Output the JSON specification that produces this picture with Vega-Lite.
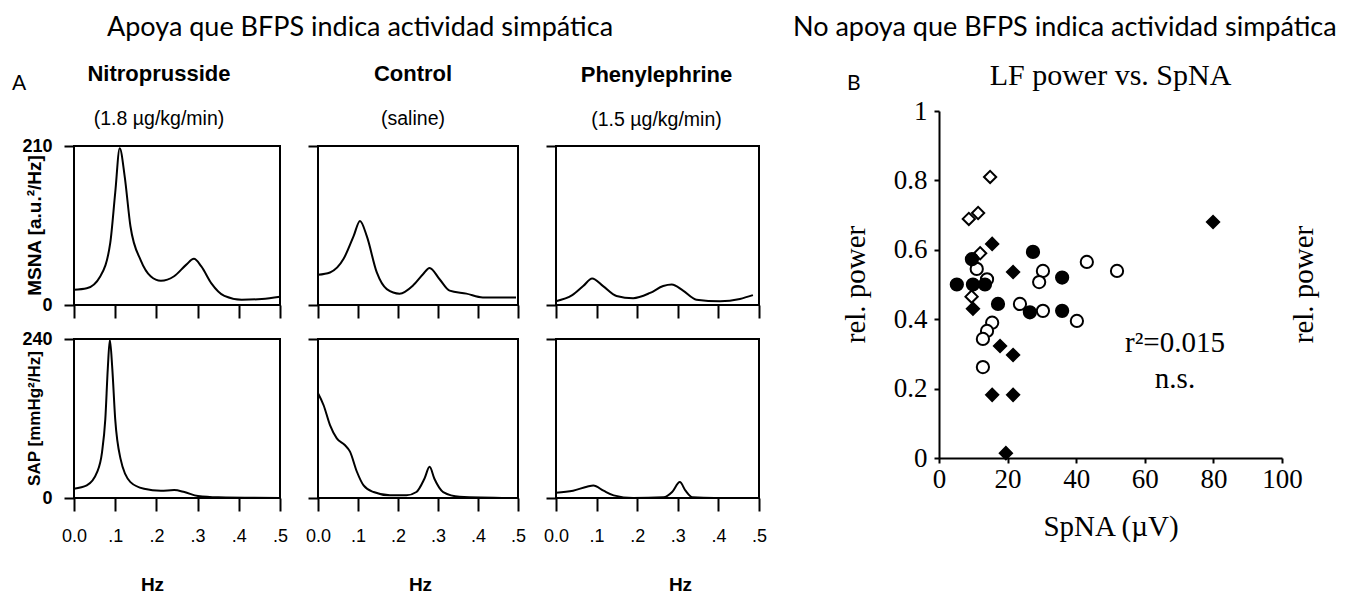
{
  "$schema": "https://vega.github.io/schema/vega-lite/v6.json",
  "padding": {"left": 12, "top": 13, "right": 5, "bottom": 5},
  "background": "white",
  "config": {
    "view": {"stroke": null},
    "title": {"frame": "group", "anchor": "middle", "font": "Liberation Sans", "fontSize": 22, "fontWeight": "bold", "color": "black", "subtitleFont": "Liberation Sans", "subtitleFontSize": 19.5, "subtitleColor": "black", "subtitlePadding": 24, "offset": 16},
    "axis": {"grid": false, "domain": false, "tickColor": "black", "tickWidth": 2, "labelColor": "black", "titleColor": "black", "labelFont": "Liberation Sans", "titleFont": "Liberation Sans"},
    "axisX": {"tickSize": 13, "labelFontSize": 18, "labelPadding": 16, "labelFlush": false, "labelOverlap": false},
    "axisY": {"tickSize": 10, "labelFontSize": 18, "labelFontWeight": "bold", "labelPadding": 12, "labelOverlap": false}
  },
  "datasets": {
    "msna_nitro": [
      {"hz": 0, "power": 20}, {"hz": 0.031, "power": 22}, {"hz": 0.064, "power": 38}, {"hz": 0.088, "power": 82},
      {"hz": 0.1, "power": 148}, {"hz": 0.111, "power": 207}, {"hz": 0.123, "power": 170}, {"hz": 0.137, "power": 104},
      {"hz": 0.162, "power": 59}, {"hz": 0.186, "power": 38}, {"hz": 0.211, "power": 32}, {"hz": 0.243, "power": 38},
      {"hz": 0.272, "power": 53}, {"hz": 0.291, "power": 61}, {"hz": 0.309, "power": 51}, {"hz": 0.333, "power": 29},
      {"hz": 0.365, "power": 12}, {"hz": 0.407, "power": 7}, {"hz": 0.456, "power": 8}, {"hz": 0.5, "power": 11}
    ],
    "msna_control": [
      {"hz": 0, "power": 40}, {"hz": 0.03, "power": 43}, {"hz": 0.064, "power": 61}, {"hz": 0.089, "power": 91},
      {"hz": 0.105, "power": 111}, {"hz": 0.122, "power": 91}, {"hz": 0.147, "power": 43}, {"hz": 0.172, "power": 21},
      {"hz": 0.204, "power": 15}, {"hz": 0.238, "power": 26}, {"hz": 0.263, "power": 41}, {"hz": 0.279, "power": 49},
      {"hz": 0.304, "power": 34}, {"hz": 0.329, "power": 19}, {"hz": 0.371, "power": 15}, {"hz": 0.412, "power": 10},
      {"hz": 0.495, "power": 10}
    ],
    "msna_phenyl": [
      {"hz": 0, "power": 5}, {"hz": 0.04, "power": 13}, {"hz": 0.067, "power": 25}, {"hz": 0.089, "power": 35},
      {"hz": 0.116, "power": 25}, {"hz": 0.149, "power": 12}, {"hz": 0.19, "power": 9}, {"hz": 0.232, "power": 16},
      {"hz": 0.264, "power": 25}, {"hz": 0.285, "power": 27}, {"hz": 0.313, "power": 19}, {"hz": 0.346, "power": 7},
      {"hz": 0.404, "power": 5}, {"hz": 0.453, "power": 8}, {"hz": 0.485, "power": 13}
    ],
    "sap_nitro": [
      {"hz": 0, "power": 14}, {"hz": 0.031, "power": 19}, {"hz": 0.056, "power": 39}, {"hz": 0.068, "power": 69},
      {"hz": 0.076, "power": 119}, {"hz": 0.082, "power": 195}, {"hz": 0.087, "power": 239}, {"hz": 0.093, "power": 195},
      {"hz": 0.1, "power": 119}, {"hz": 0.113, "power": 59}, {"hz": 0.137, "power": 24}, {"hz": 0.17, "power": 14},
      {"hz": 0.211, "power": 11}, {"hz": 0.243, "power": 12}, {"hz": 0.268, "power": 9}, {"hz": 0.301, "power": 3},
      {"hz": 0.35, "power": 1}, {"hz": 0.5, "power": 0}
    ],
    "sap_control": [
      {"hz": 0, "power": 158}, {"hz": 0.014, "power": 140}, {"hz": 0.03, "power": 110}, {"hz": 0.047, "power": 90},
      {"hz": 0.067, "power": 80}, {"hz": 0.08, "power": 70}, {"hz": 0.097, "power": 40}, {"hz": 0.114, "power": 19},
      {"hz": 0.139, "power": 9}, {"hz": 0.18, "power": 4}, {"hz": 0.221, "power": 4}, {"hz": 0.246, "power": 9},
      {"hz": 0.266, "power": 29}, {"hz": 0.279, "power": 47}, {"hz": 0.291, "power": 29}, {"hz": 0.313, "power": 9},
      {"hz": 0.354, "power": 2}, {"hz": 0.495, "power": 0}
    ],
    "sap_phenyl": [
      {"hz": 0, "power": 8}, {"hz": 0.042, "power": 11}, {"hz": 0.076, "power": 17}, {"hz": 0.092, "power": 19},
      {"hz": 0.117, "power": 11}, {"hz": 0.142, "power": 4}, {"hz": 0.19, "power": 0}, {"hz": 0.265, "power": 1},
      {"hz": 0.286, "power": 9}, {"hz": 0.305, "power": 24}, {"hz": 0.319, "power": 11}, {"hz": 0.336, "power": 1},
      {"hz": 0.39, "power": 0}, {"hz": 0.49, "power": 0}
    ],
    "puntos": [
      {"spna": 14.9, "rel": 0.81, "serie": "S1"},
      {"spna": 8.7, "rel": 0.689, "serie": "S1"},
      {"spna": 11.4, "rel": 0.706, "serie": "S1"},
      {"spna": 12, "rel": 0.59, "serie": "S1"},
      {"spna": 9.5, "rel": 0.465, "serie": "S1"},
      {"spna": 15.5, "rel": 0.617, "serie": "S2"},
      {"spna": 21.6, "rel": 0.536, "serie": "S2"},
      {"spna": 9.9, "rel": 0.43, "serie": "S2"},
      {"spna": 17.8, "rel": 0.323, "serie": "S2"},
      {"spna": 21.6, "rel": 0.297, "serie": "S2"},
      {"spna": 15.5, "rel": 0.182, "serie": "S2"},
      {"spna": 21.6, "rel": 0.182, "serie": "S2"},
      {"spna": 19.5, "rel": 0.014, "serie": "S2"},
      {"spna": 79.9, "rel": 0.68, "serie": "S2"},
      {"spna": 30.3, "rel": 0.539, "serie": "S3"},
      {"spna": 29.2, "rel": 0.507, "serie": "S3"},
      {"spna": 43.1, "rel": 0.565, "serie": "S3"},
      {"spna": 51.9, "rel": 0.539, "serie": "S3"},
      {"spna": 23.6, "rel": 0.444, "serie": "S3"},
      {"spna": 30.3, "rel": 0.424, "serie": "S3"},
      {"spna": 40.2, "rel": 0.395, "serie": "S3"},
      {"spna": 15.5, "rel": 0.39, "serie": "S3"},
      {"spna": 14, "rel": 0.366, "serie": "S3"},
      {"spna": 12.8, "rel": 0.343, "serie": "S3"},
      {"spna": 12.8, "rel": 0.262, "serie": "S3"},
      {"spna": 11, "rel": 0.545, "serie": "S3"},
      {"spna": 14, "rel": 0.515, "serie": "S3"},
      {"spna": 27.4, "rel": 0.594, "serie": "S4"},
      {"spna": 9.6, "rel": 0.573, "serie": "S4"},
      {"spna": 5.2, "rel": 0.5, "serie": "S4"},
      {"spna": 9.9, "rel": 0.5, "serie": "S4"},
      {"spna": 13.4, "rel": 0.5, "serie": "S4"},
      {"spna": 35.9, "rel": 0.52, "serie": "S4"},
      {"spna": 17.2, "rel": 0.444, "serie": "S4"},
      {"spna": 26.5, "rel": 0.42, "serie": "S4"},
      {"spna": 35.9, "rel": 0.424, "serie": "S4"}
    ],
    "notas": [
      {"spna": 68.8, "rel": 0.33, "etiqueta": "r²=0.015"},
      {"spna": 68.8, "rel": 0.228, "etiqueta": "n.s."}
    ],
    "vacio": [{"v": 0}]
  },
  "spacing": 19,
  "hconcat": [
    {
      "bounds": "flush",
      "spacing": 16.5,
      "vconcat": [
        {
          "width": 700, "height": 1,
          "title": {"text": "Apoya que BFPS indica actividad simpática", "anchor": "start", "frame": "group", "dx": 33, "offset": 67, "font": "Lato", "fontSize": 27, "fontWeight": "normal"},
          "data": {"name": "vacio"},
          "mark": {"type": "point", "opacity": 0}
        },
        {
          "width": 700, "height": 1,
          "title": {"text": "A", "anchor": "start", "frame": "group", "dx": -62, "offset": 32.5, "font": "Lato", "fontSize": 21, "fontWeight": "normal"},
          "data": {"name": "vacio"},
          "mark": {"type": "point", "opacity": 0}
        },
        {
          "bounds": "flush",
          "columns": 3,
          "spacing": {"row": 34, "column": 38},
          "concat": [
            {
              "width": 206, "height": 159,
              "view": {"stroke": "black", "strokeWidth": 2},
              "title": {"text": "Nitroprusside", "subtitle": "(1.8 µg/kg/min)", "dx": -18, "offset": 8},
              "data": {"name": "msna_nitro"},
              "mark": {"type": "line", "color": "black", "strokeWidth": 2, "interpolate": "monotone"},
              "encoding": {
                "x": {"field": "hz", "type": "quantitative", "scale": {"domain": [0, 0.5], "nice": false, "zero": false}, "axis": {"values": [0, 0.1, 0.2, 0.3, 0.4, 0.5], "labels": false, "title": null}},
                "y": {"field": "power", "type": "quantitative", "scale": {"domain": [0, 210], "nice": false}, "axis": {"values": [0, 210], "title": "MSNA [a.u.²/Hz]", "titleFontSize": 19, "titleFontWeight": "bold", "titleX": -40, "titleY": 79, "titleAngle": -90, "titleAlign": "center", "titleBaseline": "middle"}}
              }
            },
            {
              "width": 200, "height": 159,
              "view": {"stroke": "black", "strokeWidth": 2},
              "title": {"text": "Control", "subtitle": "(saline)", "dx": -5, "offset": 16},
              "data": {"name": "msna_control"},
              "mark": {"type": "line", "color": "black", "strokeWidth": 2, "interpolate": "monotone"},
              "encoding": {
                "x": {"field": "hz", "type": "quantitative", "scale": {"domain": [0, 0.5], "nice": false, "zero": false}, "axis": {"values": [0, 0.1, 0.2, 0.3, 0.4, 0.5], "labels": false, "title": null}},
                "y": {"field": "power", "type": "quantitative", "scale": {"domain": [0, 210], "nice": false}, "axis": {"values": [0, 210], "labels": false, "title": null}}
              }
            },
            {
              "width": 203, "height": 159,
              "view": {"stroke": "black", "strokeWidth": 2},
              "title": {"text": "Phenylephrine", "subtitle": "(1.5 µg/kg/min)", "dx": -1, "offset": 15},
              "data": {"name": "msna_phenyl"},
              "mark": {"type": "line", "color": "black", "strokeWidth": 2, "interpolate": "monotone"},
              "encoding": {
                "x": {"field": "hz", "type": "quantitative", "scale": {"domain": [0, 0.5], "nice": false, "zero": false}, "axis": {"values": [0, 0.1, 0.2, 0.3, 0.4, 0.5], "labels": false, "title": null}},
                "y": {"field": "power", "type": "quantitative", "scale": {"domain": [0, 210], "nice": false}, "axis": {"values": [0, 210], "labels": false, "title": null}}
              }
            },
            {
              "width": 206, "height": 159,
              "view": {"stroke": "black", "strokeWidth": 2},
              "data": {"name": "sap_nitro"},
              "mark": {"type": "line", "color": "black", "strokeWidth": 2, "interpolate": "monotone"},
              "encoding": {
                "x": {"field": "hz", "type": "quantitative", "scale": {"domain": [0, 0.5], "nice": false, "zero": false}, "axis": {"values": [0, 0.1, 0.2, 0.3, 0.4, 0.5], "labelExpr": "datum.value == 0 ? '0.0' : replace(format(datum.value, '.1f'), '0.', '.')", "title": "Hz", "titleFontSize": 19, "titleFontWeight": "bold", "titleX": 78, "titleY": 77, "titleAlign": "center", "titleBaseline": "top"}},
                "y": {"field": "power", "type": "quantitative", "scale": {"domain": [0, 240], "nice": false}, "axis": {"values": [0, 240], "title": "SAP [mmHg²/Hz]", "titleFontSize": 17, "titleFontWeight": "bold", "titleX": -40, "titleY": 79, "titleAngle": -90, "titleAlign": "center", "titleBaseline": "middle"}}
              }
            },
            {
              "width": 200, "height": 159,
              "view": {"stroke": "black", "strokeWidth": 2},
              "data": {"name": "sap_control"},
              "mark": {"type": "line", "color": "black", "strokeWidth": 2, "interpolate": "monotone"},
              "encoding": {
                "x": {"field": "hz", "type": "quantitative", "scale": {"domain": [0, 0.5], "nice": false, "zero": false}, "axis": {"values": [0, 0.1, 0.2, 0.3, 0.4, 0.5], "labelExpr": "datum.value == 0 ? '0.0' : replace(format(datum.value, '.1f'), '0.', '.')", "title": "Hz", "titleFontSize": 19, "titleFontWeight": "bold", "titleX": 102, "titleY": 77, "titleAlign": "center", "titleBaseline": "top"}},
                "y": {"field": "power", "type": "quantitative", "scale": {"domain": [0, 240], "nice": false}, "axis": {"values": [0, 240], "labels": false, "title": null}}
              }
            },
            {
              "width": 203, "height": 159,
              "view": {"stroke": "black", "strokeWidth": 2},
              "data": {"name": "sap_phenyl"},
              "mark": {"type": "line", "color": "black", "strokeWidth": 2, "interpolate": "monotone"},
              "encoding": {
                "x": {"field": "hz", "type": "quantitative", "scale": {"domain": [0, 0.5], "nice": false, "zero": false}, "axis": {"values": [0, 0.1, 0.2, 0.3, 0.4, 0.5], "labelExpr": "datum.value == 0 ? '0.0' : replace(format(datum.value, '.1f'), '0.', '.')", "title": "Hz", "titleFontSize": 19, "titleFontWeight": "bold", "titleX": 124, "titleY": 77, "titleAlign": "center", "titleBaseline": "top"}},
                "y": {"field": "power", "type": "quantitative", "scale": {"domain": [0, 240], "nice": false}, "axis": {"values": [0, 240], "labels": false, "title": null}}
              }
            }
          ]
        }
      ]
    },
    {
      "bounds": "flush",
      "spacing": 20,
      "vconcat": [
        {
          "width": 343, "height": 347,
          "title": {"text": "LF power vs. SpNA", "font": "Liberation Serif", "fontSize": 30, "fontWeight": "normal", "offset": 6, "anchor": "middle", "frame": "group"},
          "resolve": {"axis": {"y": "independent"}},
          "layer": [
            {
              "data": {"name": "puntos"},
              "mark": {"type": "point", "filled": true, "stroke": "black", "strokeWidth": 2, "size": 150, "opacity": 1},
              "encoding": {
                "x": {"field": "spna", "type": "quantitative", "scale": {"domain": [0, 100], "nice": false}, "axis": {"values": [0, 20, 40, 60, 80, 100], "domain": true, "domainColor": "black", "domainWidth": 2, "tickSize": 5, "labelFont": "Liberation Serif", "labelFontSize": 27, "labelPadding": 3, "title": "SpNA (µV)", "titleFont": "Liberation Serif", "titleFontSize": 29, "titleFontWeight": "normal", "titleX": 171.5, "titleY": 68, "titleAlign": "center", "titleBaseline": "middle"}},
                "y": {"field": "rel", "type": "quantitative", "scale": {"domain": [0, 1], "nice": false}, "axis": {"values": [0, 0.2, 0.4, 0.6, 0.8, 1], "labelExpr": "datum.value == 0 ? '0' : datum.value == 1 ? '1' : format(datum.value, '.1f')", "domain": true, "domainColor": "black", "domainWidth": 2, "tickSize": 5, "labelFont": "Liberation Serif", "labelFontSize": 27, "labelFontWeight": "normal", "labelPadding": 7, "title": "rel. power", "titleFont": "Liberation Serif", "titleFontSize": 29, "titleFontWeight": "normal", "titleX": -84, "titleY": 173, "titleAngle": -90, "titleAlign": "center", "titleBaseline": "middle"}},
                "shape": {"field": "serie", "type": "nominal", "scale": {"domain": ["S1", "S2", "S3", "S4"], "range": ["diamond", "diamond", "circle", "circle"]}, "legend": null},
                "fill": {"field": "serie", "type": "nominal", "scale": {"domain": ["S1", "S2", "S3", "S4"], "range": ["white", "black", "white", "black"]}, "legend": null}
              }
            },
            {
              "data": {"name": "notas"},
              "mark": {"type": "text", "font": "Liberation Serif", "fontSize": 29, "color": "black", "align": "center", "baseline": "middle"},
              "encoding": {
                "x": {"field": "spna", "type": "quantitative"},
                "y": {"field": "rel", "type": "quantitative", "axis": null},
                "text": {"field": "etiqueta"}
              }
            },
            {
              "data": {"name": "puntos"},
              "mark": {"type": "point", "opacity": 0},
              "encoding": {
                "y": {"field": "rel", "type": "quantitative", "axis": {"orient": "right", "labels": false, "ticks": false, "domain": false, "title": "rel. power", "titleFont": "Liberation Serif", "titleFontSize": 29, "titleFontWeight": "normal", "titleX": 21, "titleY": 173, "titleAngle": -90, "titleAlign": "center", "titleBaseline": "middle"}}
              }
            }
          ]
        },
        {
          "width": 1, "height": 1,
          "title": {"text": "B", "anchor": "start", "frame": "group", "dx": -92, "offset": 382, "font": "Lato", "fontSize": 21, "fontWeight": "normal"},
          "data": {"name": "vacio"},
          "mark": {"type": "point", "opacity": 0}
        },
        {
          "width": 1, "height": 1,
          "title": {"text": "No apoya que BFPS indica actividad simpática", "anchor": "start", "frame": "group", "dx": -146, "offset": 455, "font": "Lato", "fontSize": 27, "fontWeight": "normal"},
          "data": {"name": "vacio"},
          "mark": {"type": "point", "opacity": 0}
        }
      ]
    }
  ]
}
